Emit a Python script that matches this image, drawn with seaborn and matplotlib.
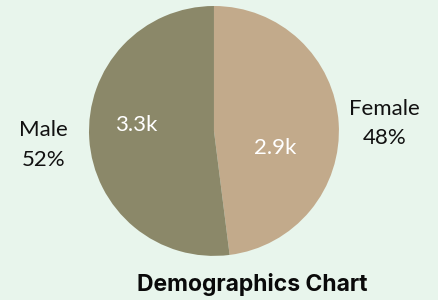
import matplotlib
matplotlib.use("Agg")
import matplotlib.pyplot as plt
import seaborn as sns

# chart data
categories = ["Female", "Male"]
shares = [48, 52]
count_labels = ["2.9k", "3.3k"]
colors = ["#C2AA8B", "#8B8869"]

BG = "#E8F5EC"

sns.set_theme(style="white")
plt.rcParams["font.family"] = ["Lato", "DejaVu Sans"]

fig = plt.figure(figsize=(4.38, 3.0), dpi=100)
fig.patch.set_facecolor(BG)
ax = fig.add_axes([0.203, 0.147, 0.571, 0.833])
ax.set_facecolor(BG)

wedges, texts = ax.pie(
    shares,
    colors=colors,
    startangle=90,
    counterclock=False,
    labels=[f"{c}\n{s}%" for c, s in zip(categories, shares)],
    labeldistance=1.37,
    wedgeprops=dict(linewidth=0),
    textprops=dict(fontsize=16, color="#111111", linespacing=1.6),
)
for t in texts:
    t.set_ha("center")
    t.set_va("center")
    # nudge down a little
    x, y = t.get_position()
    t.set_position((x, y - 0.025))

# value labels inside slices (positions tweaked to match original)
inner_pos = [(0.49, -0.14), (-0.62, 0.05)]
for (x, y), lab in zip(inner_pos, count_labels):
    ax.text(x, y, lab, ha="center", va="center", color="white", fontsize=16)

ax.set_aspect("equal")
ax.set_xlim(-1, 1)
ax.set_ylim(-1, 1)

fig.text(0.575, 0.052, "Demographics Chart", ha="center", va="center",
         fontsize=16.5, fontweight="bold", family=["Inter", "DejaVu Sans"], color="#0A0A0A")

fig.savefig("out.png", dpi=100, facecolor=BG)
